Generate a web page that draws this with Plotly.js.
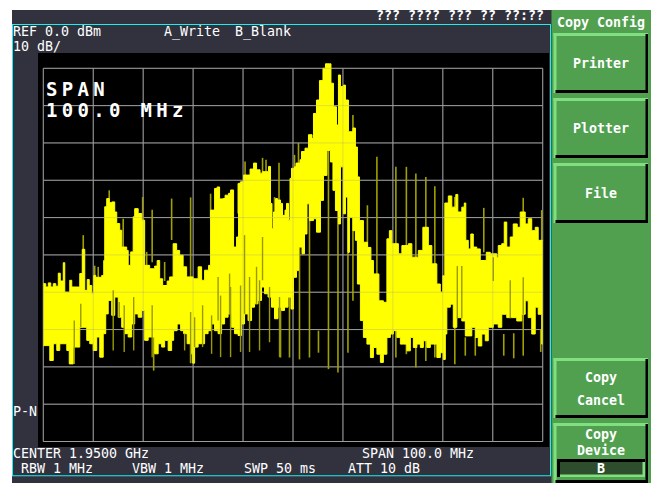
<!DOCTYPE html>
<html><head><meta charset="utf-8">
<script src="https://cdn.plot.ly/plotly-3.0.1.min.js"></script>
<style>html,body{margin:0;padding:0;background:#fff}</style></head>
<body><div id="chart" style="width:654px;height:483px"></div>
<script>
const upperX=[0,0.5,1,1.5,2,2.5,3,3.4,4,4.3,5,5.3,5.7,7,7.3,7.8,8.3,8.8,9.2,9.7,10.1,10.5,11,11.7,12.1,12.3,12.7,13.2,13.7,14.3,14.7,15.3,15.7,16.7,17,17.5,18,18.3,19,19.7,20.3,21.3,22.3,22.8,23.3,23.9,24.8,25.3,26,26.7,27.3,28,28.7,30,31,31.7,32.3,33.1,33.5,33.9,34.3,34.8,35.3,36,36.4,37.1,37.5,38.1,38.7,39.1,39.5,40.1,40.9,41.4,42.1,42.7,43.4,43.9,44.4,45.1,45.5,45.8,46.1,46.5,46.9,47.5,47.9,48.4,48.7,49.1,49.4,49.7,50.3,50.6,51.4,51.7,52.4,53.1,53.8,54.1,54.7,55.3,56,56.5,57.3,57.6,58.1,58.7,59.1,59.5,60.1,60.5,60.8,61.1,62,62.5,62.9,63.3,64.1,64.9,65.6,66.1,67.2,68.1,68.8,69.3,69.8,71.1,71.8,73.1,73.8,75.1,76,77.1,77.8,78.8,79.5,80,80.4,81.1,81.8,82.6,83,83.8,84.3,84.6,85.1,85.6,86.1,86.8,87.5,88.7,89.5,90.1,90.8,91.1,91.8,92.3,92.8,93.5,94.1,94.9,95.5,96.5,97.1,97.8,98.5,99.1,99.8,100];
const upperDb=[-57.7,-58.6,-57.5,-58.6,-57.7,-58.4,-54.9,-57,-52.1,-60,-60,-56.8,-58.6,-58.6,-55,-48.5,-59.5,-56.6,-58.2,-60.4,-55.5,-56,-56,-55.5,-51.5,-37.1,-34.9,-36,-35.8,-38.5,-41.6,-43.4,-47.9,-48.8,-52.8,-49.2,-39.8,-37.6,-38.9,-40.7,-52.8,-53.7,-53,-51.5,-56.4,-58.2,-57,-55.9,-47,-48.8,-50.1,-53.2,-55.9,-56.4,-53.2,-56.8,-54.1,-52.8,-38,-38,-32.2,-31.8,-35,-34.9,-34,-33.5,-32.6,-47.9,-45.2,-30.8,-30.4,-28.6,-28.6,-27,-25.4,-27.2,-28.1,-27.7,-27.7,-26.3,-36.2,-43,-38.5,-34.9,-35.3,-36.2,-39.4,-38,-36.2,-40.7,-29.5,-26.8,-26.4,-25.4,-24.5,-22.3,-21.4,-17.8,-18.8,-12.1,-8.5,-3.3,0,1.2,1.2,-4,-10.3,-15.2,-1.8,-4.9,-4.5,-8.5,-8.5,-17,-16,-21.1,-29.1,-40.8,-46.6,-48,-51.5,-55.1,-62.3,-62.7,-45.7,-43.5,-47,-49.7,-47.5,-47,-50.6,-48.8,-42.6,-47.5,-52.4,-57.8,-60,-55.6,-36.1,-34.2,-37.2,-33.8,-38.5,-37.2,-36.1,-46.1,-48.4,-44.4,-47.9,-48.4,-51.5,-49.3,-49.7,-49.7,-50.6,-47.5,-47,-41.2,-47.9,-45.2,-41.7,-42.6,-38.5,-41.7,-40.3,-43.5,-42.6,-46.1,-46.1,-46];
const lowerX=[0,0.7,1.3,2,2.7,3.3,4,4.7,5.2,5.7,6,6.7,7.3,8,8.7,9.3,10,10.7,11.3,12,12.5,13,13.7,14.3,15,15.7,16.3,17,17.7,18.3,19,19.7,20.3,21,21.7,22.3,23,23.7,24.3,25,25.7,26.1,26.8,27.5,28.1,28.8,29.5,29.9,30.3,31,31.7,32.3,33,33.7,34.3,35,35.7,36.3,37,37.7,38.3,39,39.7,40.3,41,41.7,42.3,43,43.7,44.3,45,45.7,46.3,47,47.7,48.3,49,49.6,50.1,50.7,51.1,51.8,52.3,52.8,53.3,54.1,54.7,55.5,56.1,56.8,57.5,58,58.5,59.1,59.5,60.1,60.5,61,61.3,62,62.5,62.9,63.5,64.1,64.8,65.5,66.1,66.8,67.5,68.1,68.8,69.5,70.1,70.8,71.5,72.1,72.8,73.5,74.1,74.8,75.5,76.1,76.8,77.5,78.1,78.8,79.5,80.1,80.5,80.8,81.5,82.1,82.8,83.8,84.5,85.1,85.8,86.5,87.1,87.8,88.5,89.1,90.1,91.1,91.8,92.8,93.8,94.8,95.8,96.5,97.1,97.8,98.5,99.1,99.8,100];
const lowerDb=[-74.3,-74.3,-78.3,-73.8,-75.6,-73.8,-73.8,-75.6,-79.2,-79.2,-74.7,-74.7,-69.4,-69.4,-72.9,-73.8,-75.6,-72,-77.4,-71.1,-65.8,-62.2,-66.2,-61.3,-66.7,-69.4,-71.1,-72,-68.5,-65.8,-66.7,-64.9,-72.9,-72,-72,-76.5,-73.8,-74.7,-72.9,-75.6,-72.9,-70.3,-68.5,-70.3,-71.1,-73.8,-76.5,-79,-74.7,-73.8,-73.8,-71.1,-70.3,-68.5,-70.3,-71.1,-68.5,-66.7,-65.8,-69.4,-71.1,-71.6,-68.5,-65.8,-67.6,-64,-63.1,-62.2,-58.6,-60.4,-61.3,-64,-67.1,-64,-64.9,-64,-61.3,-64.5,-56,-54.2,-47.9,-49.7,-44.4,-36.3,-40.8,-40.3,-43.9,-35.4,-28.7,-22,-25.1,-32.7,-38.1,-41.7,-26.4,-39,-34.5,-49.3,-39.9,-43.5,-46.1,-57.8,-67.6,-72.1,-73.9,-77.5,-74.8,-76.6,-78.8,-76.6,-72.1,-71.2,-70.3,-72.1,-73.9,-73.9,-75.7,-72.1,-74.8,-73.9,-74.8,-73,-74.8,-73.9,-73.9,-77.5,-76.2,-78,-71.2,-64,-63.2,-69.4,-66.8,-67.7,-71.7,-71.7,-69.4,-72.1,-74.4,-71.2,-73,-69.4,-68.5,-69.4,-65.9,-66.8,-66.8,-67.7,-65.9,-62.3,-66.8,-71.2,-64,-65.9,-73.9,-73.9];
// thin trace excursions that reach past the band
const spikeX=[8,10.3,11,13.2,16,19.9,20.7,21.8,24.3,25.7,29.5,33.5,39,40.4,41.3,43.9,44.6,46.3,47.2,50.3,51.1,22.1,29.5,47.5,49.3,51.3,53.3,55.1,57.1,59,61,62,63,64.9,66.8,70.6,72.7,74.6,76.6,78.4,82.4,84.5,86.5,88.2,92.2,94.2,96.1,96.1,99.6,99.8];
const spikeTop=[-44.7,-52.9,-53.2,-32.7,-40.3,-34.5,-49.2,-37.9,-51.9,-34.9,-34.6,-33.6,-30.9,-25,-30,-24,-24.5,-34.5,-25.3,-23.2,-20,-72,-65.3,-60.5,-47.9,-47.9,-36.3,-70.3,-21.1,-38.1,-25.5,-12.5,-30.9,-36.7,-23.7,-26.4,-26.4,-28.2,-29.1,-31.6,-34.5,-72.1,-72,-37.4,-71.2,-71,-34.7,-56,-70,-38];
const spikeBot=[-60,-58,-58,-40,-48,-42,-55,-52,-57,-46,-56,-40,-38.9,-30.8,-45.2,-28,-28,-41.6,-45,-27,-26,-81,-79,-77.5,-77.5,-78,-77.5,-76.2,-80.6,-81.5,-76.2,-62.3,-57.8,-60.5,-65.9,-77.5,-76.6,-80.2,-78.4,-77.5,-79.3,-77,-77,-49.3,-77,-77.7,-41.7,-77,-76,-52.4];
// darker traces visible on the yellow band
const notchX=[6.2,7.5,14,15.2,16.2,18.1,21.8,28.3,29.5,30.3,31.9,33.7,35,35.5,37.3,37.5,39.5,40.3,41.3,42.7,43.3,43.9,45.3,47.3,82.9,83.8,90.1,93.5,96.1];
const notchTop=[-67.6,-63.1,-59.5,-62.6,-63.5,-61.3,-63.5,-71.1,-65.3,-66.7,-63.5,-66.2,-55.9,-60.9,-55,-58.6,-58.2,-44.7,-55.9,-53.2,-56.8,-45.2,-58.6,-61.3,-53,-53,-50.6,-56.8,-56];
const notchBot=[-79.2,-69.4,-75.6,-66.7,-76,-75.6,-77.4,-75.6,-79,-74.7,-74.7,-76.5,-67.6,-77.4,-65.8,-77.4,-76,-65.8,-76,-63.1,-75.6,-56.8,-73.4,-77.4,-67,-67,-57,-67,-66];
const xTicks=[0,10,20,30,40,50,60,70,80,90,100];
const yTicks=[0,-10,-20,-30,-40,-50,-60,-70,-80,-90,-100];

const W=654,H=483;
const px=x=>x/W, py=y=>1-y/H;
const DARK='#32323f',CYAN='#19f0f0',GRN='#50a050',LT='#80e080',GRID='#a0a0a0';
function rect(x0,y0,x1,y1,c){return {type:'rect',xref:'paper',yref:'paper',x0:px(x0),x1:px(x1),y0:py(y1),y1:py(y0),fillcolor:c,line:{width:0},layer:'below'};}
function button(x0,y0,x1,y1){return [rect(x0,y0,x1,y1,GRN),rect(x0,y0,x1,y0+3,LT),rect(x0,y0,x0+3,y1,LT),rect(x0+2,y1-3,x1,y1,'#000'),rect(x1-2.5,y0+1,x1,y1,'#000')];}
const shapes=[
 rect(12,10,552,483,DARK),
 rect(12,24,551,25,CYAN),rect(12,475.3,551,476.3,CYAN),rect(12,24,13,476,CYAN),rect(550,24,551,476,CYAN),
 rect(38,53,549,447,'#000'),
 rect(551.5,10,651,483,GRN),
 ...button(553.5,33,648,93),...button(553.5,98,648,158),...button(553.5,163,648,223),
 ...button(553.5,358,648,418),...button(553.5,423,648,483),
 rect(557,459,645,477,LT),rect(557,459,645,462,'#000'),rect(557,459,560,477,'#000'),rect(560,462,642.5,474.5,'#2d4d2d')
];
const over='rgba(150,150,150,0.3)';
function gridLine(x0,x1,y0,y1,c,layer){return {type:'line',xref:'x',yref:'y',x0,x1,y0,y1,line:{color:c,width:1},layer};}
xTicks.forEach(v=>{shapes.push(gridLine(v,v,-100,0,GRID,'below'));shapes.push(gridLine(v,v,-100,0,over,'above'));});
yTicks.forEach(v=>{shapes.push(gridLine(0,100,v,v,GRID,'below'));shapes.push(gridLine(0,100,v,v,over,'above'));});

function ann(t,x,y,opt={}){return {text:t,xref:'paper',yref:'paper',x:px(x),y:py(y),showarrow:false,xanchor:opt.a||'left',yanchor:'middle',
 borderpad:0,font:{family:'DejaVu Sans Mono, monospace',size:opt.s||13.3,color:'#fff',weight:opt.w||'normal'}};}
const annotations=[
 ann('REF 0.0 dBm',12,32),ann('10 dB/',12,46),ann('A_Write',163,32),ann('B_Blank',234,32),
 ann('<span style="letter-spacing:4.3px">SPAN</span>',44.5,89,{s:19,w:'bold'}),
 ann('<span style="letter-spacing:4.3px">100.0 MHz</span>',44.5,110,{s:19,w:'bold'}),
 ann('P-N',12,411),ann('CENTER 1.9500 GHz',12,453.5),ann('SPAN 100.0 MHz',361,453.5),
 ann('RBW 1 MHz',20,468.5),ann('VBW 1 MHz',131,468.5),ann('SWP 50 ms',243,468.5),ann('ATT 10 dB',347,468.5),
 ann('??? ???? ??? ?? ??:??',375,16,{w:'bold'}),
 ann('Copy Config',600.5,22,{a:'center',w:'bold'}),ann('Printer',600.5,63,{a:'center',w:'bold'}),ann('Plotter',600.5,128,{a:'center',w:'bold'}),ann('File',600.5,193,{a:'center',w:'bold'}),
 ann('Copy',600.5,377.5,{a:'center',w:'bold'}),ann('Cancel',600.5,400,{a:'center',w:'bold'}),ann('Copy',600.5,434,{a:'center',w:'bold'}),ann('Device',600.5,450,{a:'center',w:'bold'}),ann('B',600.5,468,{a:'center',w:'bold'})
];
function segs(xs,a,b){const X=[],Y=[];xs.forEach((v,i)=>{X.push(v,v,null);Y.push(a[i],b[i],null);});return {X,Y};}
const sp=segs(spikeX,spikeTop,spikeBot), no=segs(notchX,notchTop,notchBot);
const data=[
 {x:sp.X,y:sp.Y,mode:'lines',line:{color:'#a0a000',width:1.6},connectgaps:false,hoverinfo:'skip'},
 {x:lowerX,y:lowerDb,mode:'lines',line:{color:'#ffff00',width:1,shape:'hv'},hoverinfo:'skip'},
 {x:upperX,y:upperDb,mode:'lines',line:{color:'#ffff00',width:1,shape:'hv'},fill:'tonexty',fillcolor:'#ffff00',hoverinfo:'skip'},
 {x:no.X,y:no.Y,mode:'lines',line:{color:'#9a9a00',width:1.4},connectgaps:false,hoverinfo:'skip'}
];
const layout={width:W,height:H,margin:{l:0,r:0,t:0,b:0},paper_bgcolor:'#fff',plot_bgcolor:'rgba(0,0,0,0)',showlegend:false,
 xaxis:{domain:[38/W,549/W],range:[-1.06,101.26],showgrid:false,showticklabels:false,ticks:'',zeroline:false,showline:false},
 yaxis:{domain:[1-447/H,1-53/H],range:[-101.47,4.1],showgrid:false,showticklabels:false,ticks:'',zeroline:false,showline:false},
 shapes,annotations};
Plotly.newPlot('chart',data,layout,{staticPlot:true,displayModeBar:false});
</script></body></html>
